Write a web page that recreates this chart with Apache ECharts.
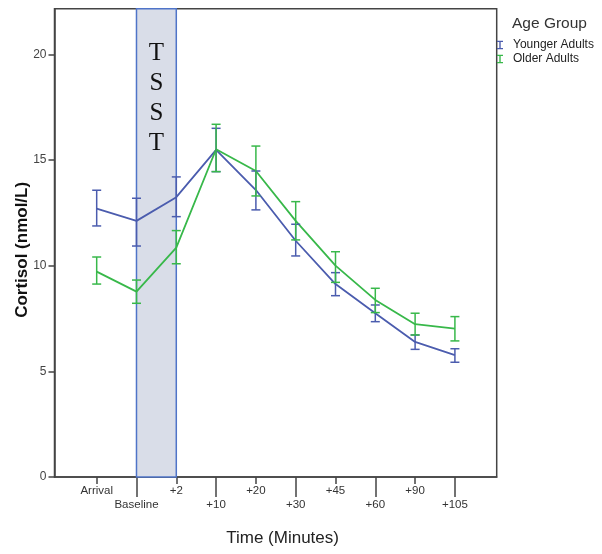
<!DOCTYPE html>
<html>
<head>
<meta charset="utf-8">
<script src="https://cdn.jsdelivr.net/npm/echarts@6/dist/echarts.min.js"></script>
<style>html,body{margin:0;padding:0;background:#fff}#c{width:602px;height:554px}</style>
</head>
<body>
<div id="c"></div>
<script>
const categories = ['Arrival','Baseline','+2','+10','+20','+30','+45','+60','+90','+105'];
const youngerMean = [12.70,12.12,13.24,15.48,13.58,11.18,9.13,7.75,6.39,5.77];
const youngerLow  = [11.88,10.93,12.32,14.45,12.64,10.46,8.58,7.35,6.04,5.43];
const youngerHigh = [13.57,13.19,14.20,16.50,14.48,11.96,9.67,8.14,6.72,6.07];
const olderMean = [9.72,8.77,10.85,15.51,14.48,12.12,10.00,8.38,7.23,7.02];
const olderLow  = [9.13,8.22,10.09,14.45,13.30,11.22,9.21,7.78,6.72,6.44];
const olderHigh = [10.41,9.32,11.66,16.69,15.66,13.03,10.66,8.93,7.75,7.59];
const yTicks = [0,5,10,15,20];
const tsstFrom = 'Baseline';
const tsstTo = '+2';
const tsstText = 'TSST';

const BLUE = '#4b5cae';
const GREEN = '#38b84a';
const FONT = 'Arial, "Liberation Sans", sans-serif';

const idx = categories.map((c,i)=>i);
const evenIdx = idx.filter(i=>i%2===0);
const oddIdx = idx.filter(i=>i%2===1);

function lineData(mean){ return mean.map((v,i)=>[i,v]); }
function errData(low, high){ return low.map((v,i)=>[i, v, high[i]]); }

function errRender(color){
  return function(params, api){
    const x = api.value(0);
    const lo = api.coord([x, api.value(1)]);
    const hi = api.coord([x, api.value(2)]);
    const hw = 4.5;
    const st = {stroke: color, lineWidth: 1.5, fill: null};
    return {type:'group', children:[
      {type:'line', shape:{x1:lo[0], y1:lo[1], x2:hi[0], y2:hi[1]}, style:st},
      {type:'line', shape:{x1:lo[0]-hw, y1:lo[1], x2:lo[0]+hw, y2:lo[1]}, style:st},
      {type:'line', shape:{x1:hi[0]-hw, y1:hi[1], x2:hi[0]+hw, y2:hi[1]}, style:st}
    ]};
  };
}

const iIcon = 'path://M0,0H7V1.6H4.3V8.4H7V10H0V8.4H2.7V1.6H0Z';

const chart = echarts.init(document.getElementById('c'), null, {renderer:'canvas'});
const xCommon = {
  type:'value', min:-1.06, max:10.05, position:'bottom',
  splitLine:{show:false}, minorTick:{show:false}
};
chart.setOption({
  animation:false,
  backgroundColor:'#fff',
  title:{text:'Age Group', left:512, top:16, padding:0,
    textStyle:{fontFamily:FONT, fontSize:15.5, fontWeight:'normal', color:'#333'}},
  legend:{
    orient:'vertical', left:497, top:39, padding:0, itemGap:2,
    itemWidth:6, itemHeight:9,
    textStyle:{fontFamily:FONT, fontSize:12, color:'#222', padding:[0,0,0,5]},
    data:[{name:'Younger Adults', icon:iIcon, itemStyle:{color:BLUE}},
          {name:'Older Adults', icon:iIcon, itemStyle:{color:GREEN}}]
  },
  grid:{left:54.5, top:8.7, right:105.3, bottom:77, outerBoundsMode:'none', containLabel:false,
    show:true, borderColor:'#444', borderWidth:1.5, backgroundColor:'transparent'},
  xAxis:[
    Object.assign({}, xCommon, {
      axisLine:{show:true, onZero:false, lineStyle:{color:'#444', width:1.5}},
      axisTick:{show:true, customValues:evenIdx, length:7, lineStyle:{color:'#444', width:1.5}},
      axisLabel:{show:true, customValues:evenIdx, margin:8, formatter:v=>categories[v]||'',
        fontFamily:FONT, fontSize:11.5, color:'#333'},
      name:'Time (Minutes)', nameLocation:'middle', nameGap:53, nameMoveOverlap:false,
      nameTextStyle:{fontFamily:FONT, fontSize:17, color:'#222', padding:[0,0,0,14]}
    }),
    Object.assign({}, xCommon, {
      axisLine:{show:false, onZero:false},
      axisTick:{show:true, customValues:oddIdx, length:20, lineStyle:{color:'#444', width:1.5}},
      axisLabel:{show:true, customValues:oddIdx, margin:22, formatter:v=>categories[v]||'',
        fontFamily:FONT, fontSize:11.5, color:'#333'}
    })
  ],
  yAxis:{
    type:'value', min:0, max:22.16,
    splitLine:{show:false},
    axisLine:{show:true, onZero:false, lineStyle:{color:'#444', width:1.5}},
    axisTick:{show:true, customValues:yTicks, length:6, lineStyle:{color:'#444', width:1.5}},
    axisLabel:{show:true, customValues:yTicks, margin:8, fontFamily:FONT, fontSize:12, color:'#444'},
    name:'Cortisol (nmol/L)', nameLocation:'middle', nameGap:24, nameMoveOverlap:false,
    nameTextStyle:{fontFamily:FONT, fontSize:17, fontWeight:'bold', color:'#111', padding:[0,14,0,0]}
  },
  series:[
    {
      name:'TSST', type:'line', data:[], z:1, silent:true,
      markArea:{
        silent:true,
        itemStyle:{color:'#d9dde8', borderColor:'#4f74c8', borderWidth:1.5},
        label:{show:true, position:'insideTop', distance:30, formatter:tsstText.split('').join('\n'),
          fontFamily:'"Liberation Serif", "DejaVu Serif", serif', fontSize:25, lineHeight:30, color:'#111'},
        data:[[{xAxis:categories.indexOf(tsstFrom)},{xAxis:categories.indexOf(tsstTo)}]]
      }
    },
    {name:'Younger Adults', type:'line', data:lineData(youngerMean), showSymbol:false, symbol:'none', z:3,
      lineStyle:{color:BLUE, width:1.8}, itemStyle:{color:BLUE}},
    {name:'Older Adults', type:'line', data:lineData(olderMean), showSymbol:false, symbol:'none', z:3,
      lineStyle:{color:GREEN, width:1.8}, itemStyle:{color:GREEN}},
    {name:'Younger Adults', type:'custom', data:errData(youngerLow, youngerHigh), z:4,
      renderItem:errRender(BLUE), itemStyle:{color:BLUE}, encode:{x:0, y:[1,2]}},
    {name:'Older Adults', type:'custom', data:errData(olderLow, olderHigh), z:4,
      renderItem:errRender(GREEN), itemStyle:{color:GREEN}, encode:{x:0, y:[1,2]}}
  ]
});
</script>
</body>
</html>
